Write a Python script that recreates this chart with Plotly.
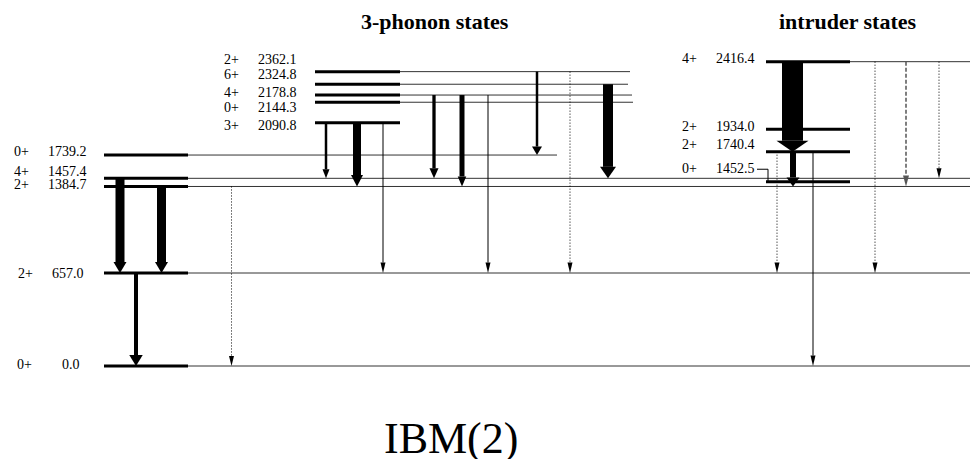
import plotly.graph_objects as go

# ------------------------------------------------------------------ data
# low-lying levels (ground band etc.)
low_spin = ["0+", "2+", "2+", "4+", "0+"]
low_energy = [0.0, 657.0, 1384.7, 1457.4, 1739.2]
# 3-phonon states
ph3_spin = ["3+", "0+", "4+", "6+", "2+"]
ph3_energy = [2090.8, 2144.3, 2178.8, 2324.8, 2362.1]
# intruder states
int_spin = ["0+", "2+", "2+", "4+"]
int_energy = [1452.5, 1740.4, 1934.0, 2416.4]

# height at which each level is drawn on the schematic energy axis (keV)
low_height = [0, 775, 1496, 1564, 1758]
ph3_height = [2028, 2198, 2258, 2348, 2453]
int_height = [1536, 1786, 1973, 2536]

# gamma transitions: initial level -> final level (keV)
trans_from = [1457.4, 1384.7, 657.0, 1384.7,
              2090.8, 2090.8, 2090.8, 2178.8, 2178.8, 2178.8,
              2362.1, 2362.1, 2324.8,
              2416.4, 1740.4, 1740.4, 1740.4, 2416.4, 2416.4, 2416.4]
trans_to = [657.0, 657.0, 0.0, 0.0,
            1457.4, 1384.7, 657.0, 1457.4, 1384.7, 657.0,
            1739.2, 657.0, 1457.4,
            1740.4, 1384.7, 0.0, 657.0, 657.0, 1384.7, 1457.4]

titles = ["3-phonon states", "intruder states"]
model_name = "IBM(2)"

# ------------------------------------------------------------------ layout / style
W, H = 970, 459
Y_LO, Y_HI = -775.0, 3050.0
KPX = (Y_HI - Y_LO) / H          # keV per pixel on the y axis
FONT = "Liberation Serif"
LAB_SIZE = 14

bar_x = {"low": (104, 188), "ph3": (315, 400), "int": (766, 850)}
low_ext = [970, 970, 970, 970, 557]
ph3_ext = [None, 633, 632, 628, 630]
int_ext = [None, None, None, 970]

low_lab_y = [14, 767, 1510, 1624, 1786]
ph3_lab_y = [2008, 2158, 2276, 2431, 2558]
int_lab_y = [1648, 1842, 2000, 2564]
low_spin_x = [24.7, 25.3, 21, 21, 21]
low_en_x = [70.5, 67.5, 67, 67, 67]
ph3_spin_x, ph3_en_x = 231, 277
int_spin_x, int_en_x = 689, 735.5

trans_x = [120, 161.5, 136, 231.5,
           326, 357, 383, 434, 462, 488,
           537, 570, 608,
           792.5, 793, 813, 777, 875, 906, 939]
trans_w = [9, 9, 4, 1,
           2.5, 8, 1, 3.3, 5, 1,
           2.5, 1, 10,
           21, 6, 1, 1, 1, 1.5, 1]
trans_hw = [13, 13, 13.5, 5,
            7, 12, 5, 9, 8.5, 5,
            10, 5, 16,
            32, 13, 5, 5, 5, 6, 5]
trans_hl = [11, 11, 11, 10,
            9, 11.5, 10.5, 10, 10, 10.5,
            8.5, 10.5, 11.5,
            11, 9, 10.5, 10.5, 10.5, 11, 10]
trans_dash = ["solid", "solid", "solid", "1px,2px",
              "solid", "solid", "solid", "solid", "solid", "solid",
              "solid", "1px,2px", "solid",
              "solid", "solid", "solid", "1px,2px", "1px,2px", "4px,2px", "1px,2px"]
trans_col = ["black"] * 18 + ["#555555", "black"]

# ------------------------------------------------------------------ build
height_of = {}
for e, h in zip(low_energy, low_height):
    height_of[e] = h
for e, h in zip(ph3_energy, ph3_height):
    height_of[e] = h
for e, h in zip(int_energy, int_height):
    height_of[e] = h

shapes = []
annotations = []


def line(x0, y0, x1, y1, width, color="black", dash="solid"):
    shapes.append(dict(type="line", xref="x", yref="y", x0=x0, y0=y0, x1=x1, y1=y1,
                       line=dict(color=color, width=width, dash=dash)))


def text(x, y, s, size=LAB_SIZE, xanchor="center", bold=False):
    annotations.append(dict(x=x, y=y, xref="x", yref="y", text=("<b>%s</b>" % s) if bold else s,
                            showarrow=False, xanchor=xanchor, yanchor="middle", borderpad=0,
                            font=dict(family=FONT, size=size, color="black")))


def draw_group(key, spins, energies, heights, exts, lab_y, spin_x, en_x):
    x0, x1 = bar_x[key]
    for i, (sp, e, h, ext) in enumerate(zip(spins, energies, heights, exts)):
        if ext is not None:
            line(x1, h, ext, h, 1, "#333333")
        line(x0, h, x1, h, 3)
        sx = spin_x[i] if isinstance(spin_x, list) else spin_x
        ex = en_x[i] if isinstance(en_x, list) else en_x
        text(sx, lab_y[i], sp)
        text(ex, lab_y[i], "%.1f" % e)


draw_group("low", low_spin, low_energy, low_height, low_ext, low_lab_y, low_spin_x, low_en_x)
draw_group("ph3", ph3_spin, ph3_energy, ph3_height, ph3_ext, ph3_lab_y, ph3_spin_x, ph3_en_x)
draw_group("int", int_spin, int_energy, int_height, int_ext, int_lab_y, int_spin_x, int_en_x)

# leader line for the 0+ 1452.5 intruder label
lead_y = int_lab_y[0] - 1 * KPX
shapes.append(dict(type="path", xref="x", yref="y",
                   path="M 757,%f L 768,%f L 768,%f" % (lead_y, lead_y, int_height[0]),
                   line=dict(color="black", width=1)))

# transitions
for f, t, x, w, hw, hl, dash, col in zip(trans_from, trans_to, trans_x, trans_w,
                                          trans_hw, trans_hl, trans_dash, trans_col):
    y0 = height_of[f]
    y1 = height_of[t]
    base = y1 + hl * KPX
    line(x, y0, x, base, w, col, dash)
    shapes.append(dict(type="path", xref="x", yref="y",
                       path="M %f,%f L %f,%f L %f,%f Z" % (x - hw / 2, base, x + hw / 2, base, x, y1),
                       fillcolor=col, line=dict(width=0)))

# headings
text(434.7, 2875, titles[0], size=22, bold=True)
text(848, 2875, titles[1], size=22, bold=True)
text(450.8, -600, model_name, size=44)

fig = go.Figure()
fig.update_layout(
    width=W, height=H,
    margin=dict(l=0, r=0, t=0, b=0),
    paper_bgcolor="white", plot_bgcolor="white",
    xaxis=dict(range=[0, W], visible=False, fixedrange=True),
    yaxis=dict(range=[Y_LO, Y_HI], visible=False, fixedrange=True),
    shapes=shapes, annotations=annotations, showlegend=False,
)
fig.write_html("out.html")
